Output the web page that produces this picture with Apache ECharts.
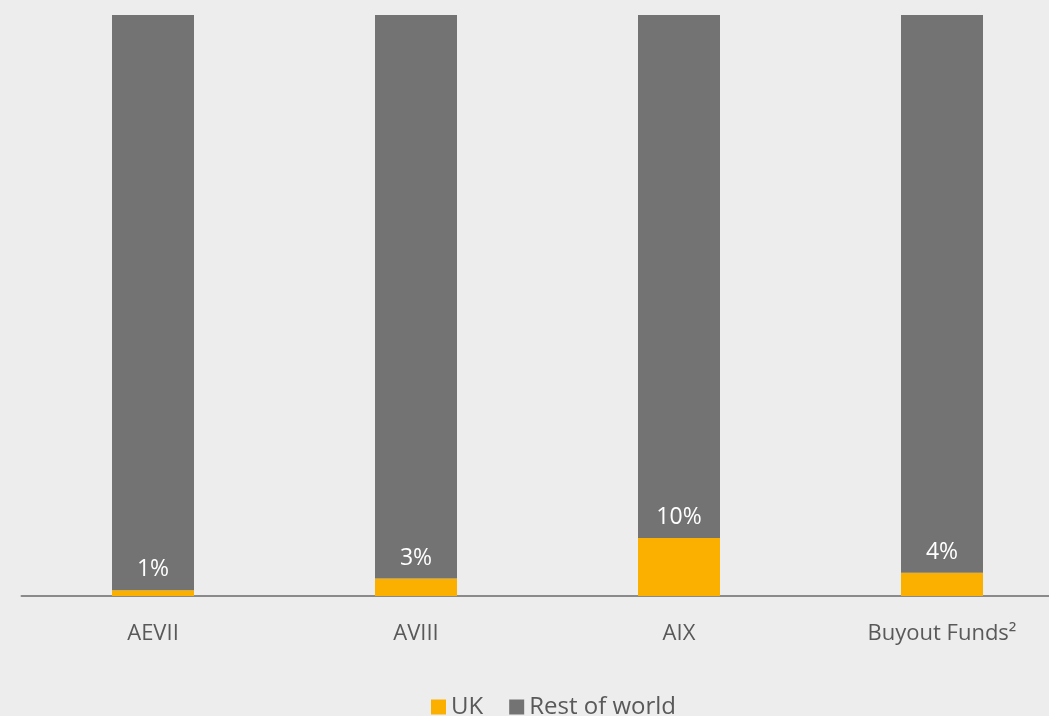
<!DOCTYPE html>
<html><head><meta charset="utf-8">
<script src="https://cdn.jsdelivr.net/npm/echarts@6/dist/echarts.min.js"></script>
<style>html,body{margin:0;padding:0;background:#ededed;overflow:hidden;width:1049px;height:716px}#c{width:1075px;height:716px}</style>
</head><body><div id="c"></div>
<script>
const categories = ['AEVII', 'AVIII', 'AIX', 'Buyout Funds²'];
const ukValues = [1, 3, 10, 4];
const restValues = [99, 97, 90, 96];
const seriesNames = ['UK', 'Rest of world'];

const chart = echarts.init(document.getElementById('c'));
chart.setOption({
  backgroundColor: '#ededed',
  animation: false,
  grid: { left: 21.5, right: 1.5, top: 15, bottom: 120, containLabel: false },
  legend: {
    left: 426, top: 690,
    itemWidth: 15, itemHeight: 15, itemGap: 26,
    icon: 'rect',
    textStyle: { color: '#595959', fontSize: 24, fontFamily: 'Open Sans' },
    data: seriesNames
  },
  xAxis: {
    type: 'category', data: categories,
    axisLine: { lineStyle: { color: '#8a8a8a', width: 2 } },
    axisTick: { show: false },
    axisLabel: { color: '#595959', fontSize: 22, fontFamily: 'Open Sans', margin: 27 }
  },
  yAxis: { type: 'value', min: 0, max: 100, show: false },
  series: [
    {
      name: seriesNames[0], type: 'bar', stack: 's', data: ukValues, barWidth: 82,
      itemStyle: { color: '#fbb000' },
      label: { show: true, position: 'top', distance: 9, color: '#ffffff', fontSize: 23, fontFamily: 'Open Sans', formatter: '{c}%' }
    },
    {
      name: seriesNames[1], type: 'bar', stack: 's', data: restValues, barWidth: 82,
      itemStyle: { color: '#737373' }
    }
  ]
});
</script></body></html>
